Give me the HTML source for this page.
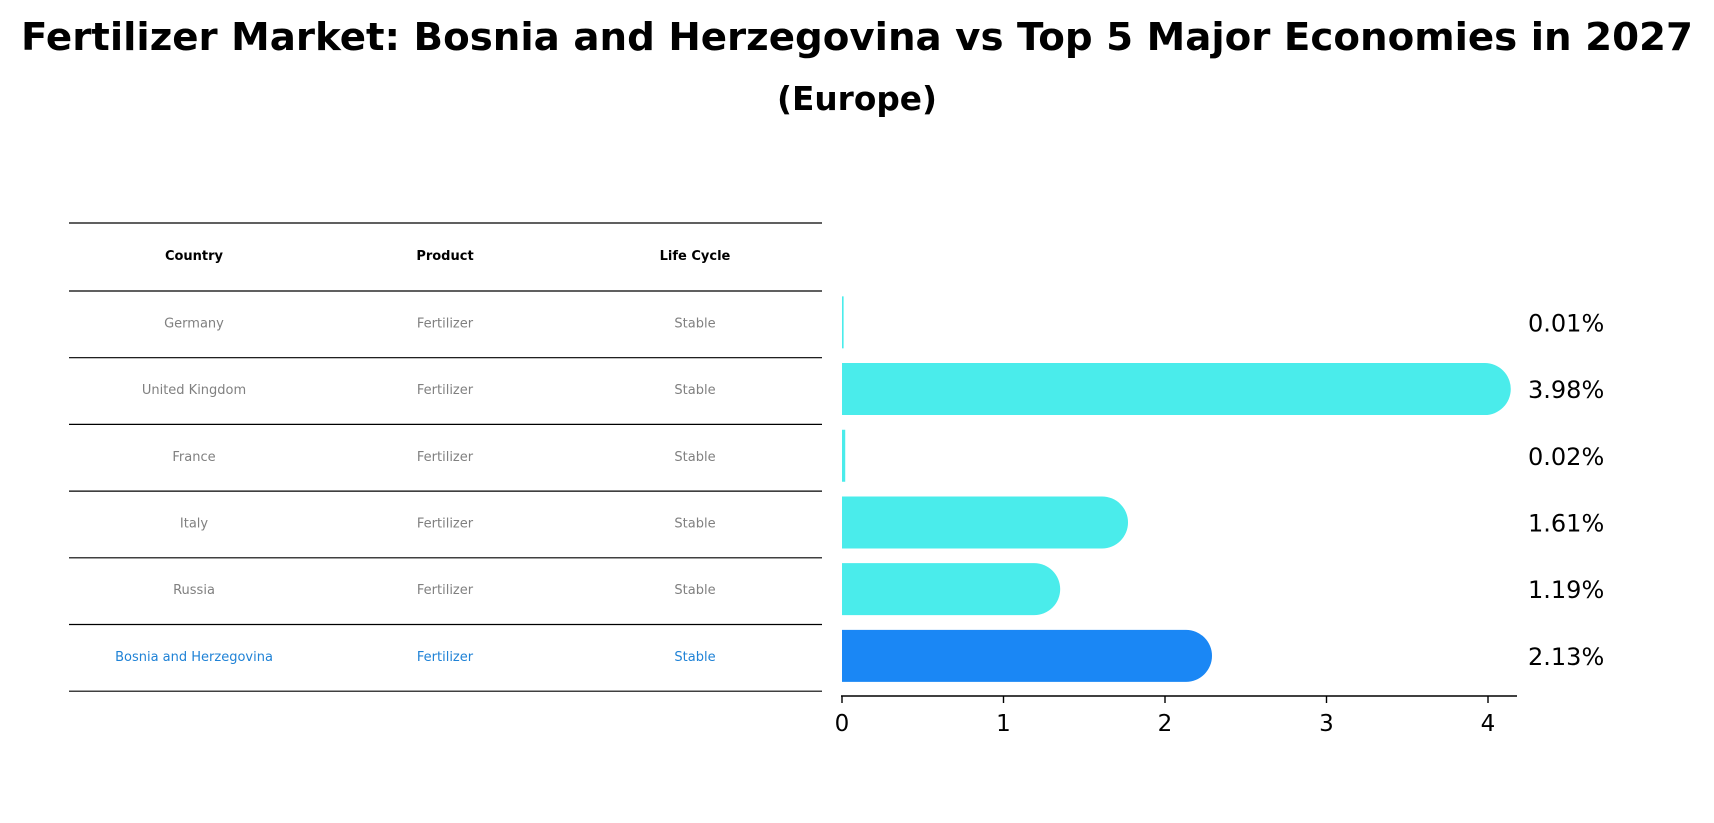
<!DOCTYPE html>
<html><head><meta charset="utf-8"><style>
html,body{margin:0;padding:0;background:#fff;}
svg{display:block;font-family:"DejaVu Sans","Liberation Sans",sans-serif;}
</style></head><body>
<svg id="chart" width="1714" height="823" viewBox="0 0 1714 823" xmlns="http://www.w3.org/2000/svg">
<text x="857" y="50" text-anchor="middle" font-size="38" font-weight="bold" textLength="1672" lengthAdjust="spacingAndGlyphs">Fertilizer Market: Bosnia and Herzegovina vs Top 5 Major Economies in 2027</text>
<text x="857" y="110" text-anchor="middle" font-size="33" font-weight="bold" textLength="160" lengthAdjust="spacingAndGlyphs">(Europe)</text>
<g id="table"></g>
<g id="bars"></g>
</svg>
<script>
const countries = ["Germany","United Kingdom","France","Italy","Russia","Bosnia and Herzegovina"];
const products = ["Fertilizer","Fertilizer","Fertilizer","Fertilizer","Fertilizer","Fertilizer"];
const lifeCycles = ["Stable","Stable","Stable","Stable","Stable","Stable"];
const values = [0.01,3.98,0.02,1.61,1.19,2.13];
const valueLabels = ["0.01%","3.98%","0.02%","1.61%","1.19%","2.13%"];
const xTicks = [0,1,2,3,4];

const NS="http://www.w3.org/2000/svg";
function mk(tag,attrs,parent){const e=document.createElementNS(NS,tag);for(const k in attrs)e.setAttribute(k,attrs[k]);parent.appendChild(e);return e;}
const table=document.getElementById('table');
const bars=document.getElementById('bars');

const tL=69,tR=822,headTop=223,headBot=291,rowH=66.7;
const colX=[194,445,695];
const headers=["Country","Product","Life Cycle"];
let l=mk('line',{x1:tL,x2:tR,y1:headTop,y2:headTop,stroke:'#000','stroke-width':1.2},table);


headers.forEach((h,i)=>{
  const t=mk('text',{x:colX[i],y:(headTop+headBot)/2+3,'text-anchor':'middle','font-size':13,'font-weight':'bold',fill:'#000'},table);
  t.textContent=h;
  
  
});
function rowY(i){return headBot+i*rowH;}
countries.forEach((c,i)=>{
  const y0=rowY(i),y1=rowY(i+1);
  const last=i===countries.length-1;
  const col=last?'#1f82d6':'#808080';
  const ln=mk('line',{x1:tL,x2:tR,y1:y0,y2:y0,stroke:'#000','stroke-width':1.2},table);
  
  
  [c,products[i],lifeCycles[i]].forEach((v,j)=>{
    const t=mk('text',{x:colX[j],y:(y0+y1)/2+3,'text-anchor':'middle','font-size':13,fill:col},table);
    t.textContent=v;
    
    
  });
});
const lb=mk('line',{x1:tL,x2:tR,y1:rowY(countries.length),y2:rowY(countries.length),stroke:'#000','stroke-width':1.2},table);



const x0=842,unit=161.5,axisY=696,barH=52;
function xs(v){return x0+v*unit;}
values.forEach((v,i)=>{
  const cy=(rowY(i)+rowY(i+1))/2-2;
  const last=i===values.length-1;
  const w=xs(v)-x0;
  const r=barH/2;
  const color=last?'#1a87f5':'#4aeceb';
  let d;
  if(w<10){const ww=Math.max(1.5,w);d=`M${x0},${cy-r}h${ww}v${barH}h-${ww}z`;}
  else d=`M${x0},${cy-r}H${x0+w}A${r},${r} 0 0 1 ${x0+w},${cy+r}H${x0}Z`;
  const p=mk('path',{d:d,fill:color},bars);
  
  
  const t=mk('text',{x:1528,y:cy+9,'font-size':24,fill:'#000'},bars);
  t.textContent=valueLabels[i];
  
  
});
const ax=mk('line',{x1:x0-1,x2:1517,y1:axisY,y2:axisY,stroke:'#000','stroke-width':1.6},bars);


xTicks.forEach(v=>{
  const tk=mk('line',{x1:xs(v),x2:xs(v),y1:axisY,y2:axisY+7,stroke:'#000','stroke-width':1.4},bars);
  
  
  const t=mk('text',{x:xs(v),y:axisY+35,'text-anchor':'middle','font-size':23,fill:'#000'},bars);
  t.textContent=String(v);
  
  
});
</script>
</body></html>
